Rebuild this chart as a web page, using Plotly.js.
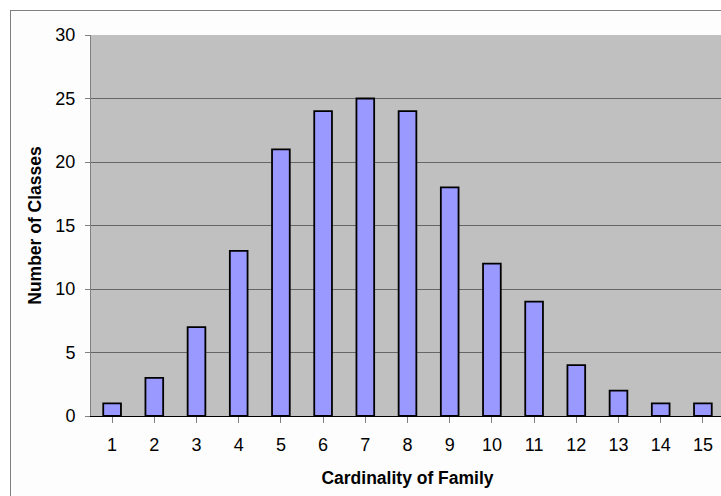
<!DOCTYPE html>
<html>
<head>
<meta charset="utf-8">
<script src="https://cdn.plot.ly/plotly-3.0.1.min.js"></script>
<style>
html, body { margin: 0; padding: 0; width: 721px; height: 496px; overflow: hidden; background: #ffffff; }
#frame { position: absolute; left: 10px; top: 10px; width: 800px; height: 600px; border: 1px solid #808080; background: #fdfdfd; }
#chart { position: absolute; left: 0; top: 0; width: 760px; height: 496px; }
</style>
</head>
<body>
<div id="frame"></div>
<div id="chart"></div>
<script>
const categories = [1, 2, 3, 4, 5, 6, 7, 8, 9, 10, 11, 12, 13, 14, 15];
const numberOfClasses = [1, 3, 7, 13, 21, 24, 25, 24, 18, 12, 9, 4, 2, 1, 1];
const yTicks = [0, 5, 10, 15, 20, 25, 30];

const trace = {
  type: 'bar',
  x: categories,
  y: numberOfClasses,
  marker: { color: '#9999ff', line: { color: '#000000', width: 1.8 } },
  width: 0.42,
  hoverinfo: 'x+y'
};

const layout = {
  width: 760,
  height: 496,
  margin: { l: 91, r: 36, t: 35, b: 80, pad: 0 },
  paper_bgcolor: 'rgba(0,0,0,0)',
  plot_bgcolor: '#c0c0c0',
  font: { family: 'Liberation Sans, Arial, sans-serif', color: '#000000' },
  showlegend: false,
  xaxis: {
    range: [0.5, 15.5],
    tickmode: 'array',
    tickvals: categories,
    ticktext: categories.map(String),
    tickson: 'boundaries',
    ticks: 'outside',
    ticklen: 6,
    tickcolor: '#808080',
    tickfont: { size: 18 },
    ticklabelstandoff: 6,
    showgrid: false,
    showline: true,
    linecolor: '#000000',
    linewidth: 1,
    zeroline: false,
    fixedrange: true,
    title: { text: 'Cardinality of Family', font: { size: 17.5, weight: 'bold' }, standoff: 18 }
  },
  yaxis: {
    range: [0, 30],
    tickmode: 'array',
    tickvals: yTicks,
    ticks: 'outside',
    ticklen: 5,
    tickcolor: '#808080',
    tickfont: { size: 18 },
    ticklabelstandoff: 6,
    showgrid: true,
    gridcolor: '#666666',
    gridwidth: 1,
    showline: true,
    linecolor: '#808080',
    linewidth: 1,
    zeroline: false,
    fixedrange: true,
    title: { text: 'Number of Classes', font: { size: 17.5, weight: 'bold' }, standoff: 9 }
  }
};

Plotly.newPlot('chart', [trace], layout, { displayModeBar: false, staticPlot: true });
</script>
</body>
</html>
